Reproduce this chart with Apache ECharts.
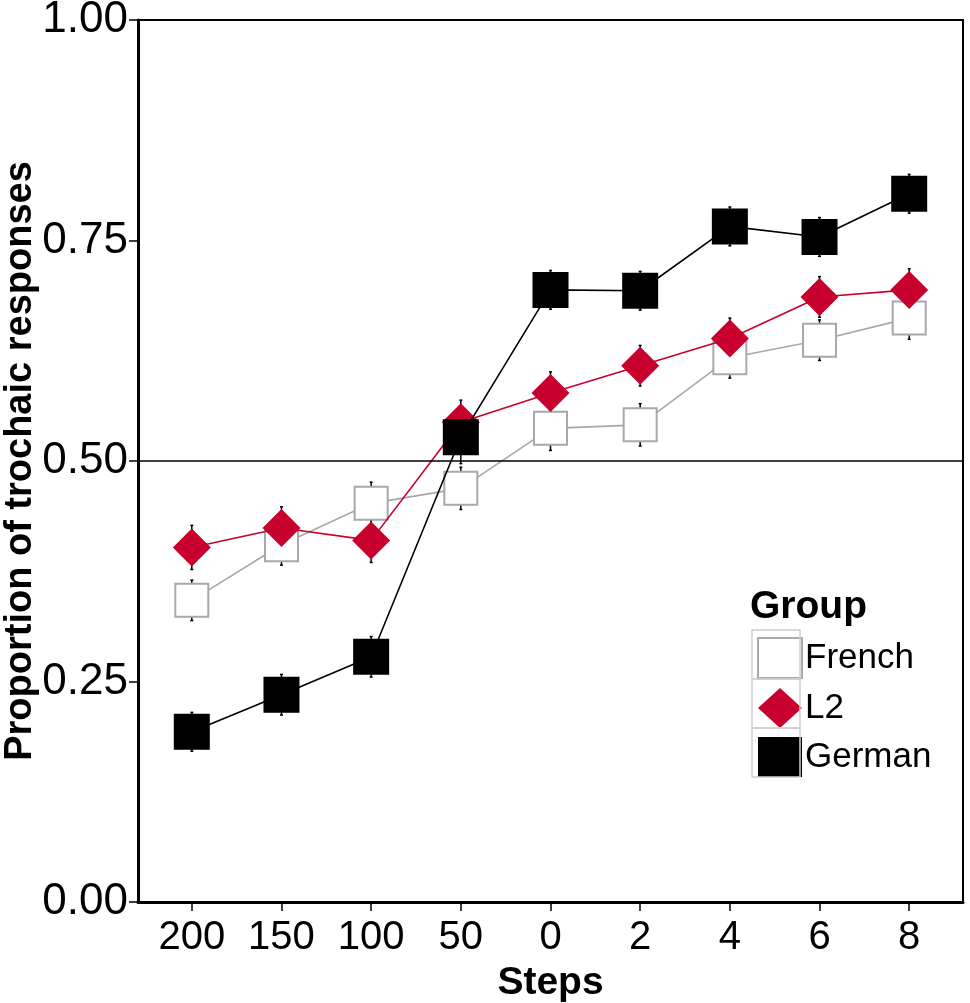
<!DOCTYPE html>
<html><head><meta charset="utf-8">
<script src="https://cdn.jsdelivr.net/npm/echarts@6/dist/echarts.min.js"></script>
<style>html,body{margin:0;padding:0;background:#fff}#c{width:970px;height:1003px}</style>
</head><body><div id="c"></div>
<script>
const categories = ['200','150','100','50','0','2','4','6','8'];
const french = [0.342,0.405,0.452,0.469,0.537,0.541,0.617,0.637,0.662];
const l2     = [0.402,0.424,0.410,0.544,0.577,0.608,0.639,0.686,0.694];
const german = [0.193,0.235,0.278,0.527,0.694,0.693,0.766,0.754,0.803];
const frenchErr = [0.023,0.023,0.024,0.024,0.025,0.024,0.023,0.023,0.024];
const l2Err     = [0.025,0.024,0.025,0.025,0.024,0.023,0.023,0.023,0.024];
const germanErr = [0.022,0.023,0.023,0.030,0.022,0.022,0.022,0.022,0.022];

const pts = arr => arr.map((v,i)=>[i,v]);
const errData = (vals, errs) => vals.map((v,i)=>[i, v-errs[i], v+errs[i]]);
function errSeries(vals, errs){
  return {
    type:'custom', silent:true, z:1,
    data: errData(vals, errs),
    renderItem:(params, api)=>{
      const x = api.value(0);
      const lo = api.coord([x, api.value(1)]);
      const hi = api.coord([x, api.value(2)]);
      return {type:'group', children:[
        {type:'line', shape:{x1:lo[0],y1:lo[1],x2:hi[0],y2:hi[1]}, style:{stroke:'#000',lineWidth:1.5}},
        {type:'line', shape:{x1:lo[0]-1.5,y1:lo[1],x2:lo[0]+1.5,y2:lo[1]}, style:{stroke:'#000',lineWidth:1.5}},
        {type:'line', shape:{x1:hi[0]-1.5,y1:hi[1],x2:hi[0]+1.5,y2:hi[1]}, style:{stroke:'#000',lineWidth:1.5}}
      ]};
    }
  };
}

const FONT = 'Liberation Sans, Arial, sans-serif';
const chart = echarts.init(document.getElementById('c'));
chart.setOption({
  animation:false,
  backgroundColor:'#fff',
  textStyle:{fontFamily:FONT},
  grid:{left:138, top:20, right:7, bottom:101, containLabel:false, outerBoundsMode:'none',
        show:true, borderColor:'#000', borderWidth:2, backgroundColor:'#fff'},
  xAxis:{
    type:'value', min:-0.6, max:8.6,
    name:'Steps', nameLocation:'middle', nameGap:62, nameMoveOverlap:false,
    nameTextStyle:{fontSize:39, fontWeight:'bold', color:'#000', fontFamily:FONT},
    axisLine:{show:true, onZero:false, lineStyle:{color:'#000', width:3}},
    axisTick:{show:true, length:9, lineStyle:{color:'#000', width:1.5}, customValues:categories.map((c,i)=>i)},
    axisLabel:{fontSize:40, color:'#000', margin:16, customValues:categories.map((c,i)=>i), formatter:v=>categories[Math.round(v)]},
    splitLine:{show:false}
  },
  yAxis:{
    type:'value', min:0, max:1, interval:0.25,
    name:'Proportion of trochaic responses', nameLocation:'middle', nameGap:98, nameMoveOverlap:false,
    nameTextStyle:{fontSize:38, fontWeight:'bold', color:'#000', fontFamily:FONT},
    axisLine:{show:true, onZero:false, lineStyle:{color:'#000', width:3}},
    axisTick:{show:true, length:9, lineStyle:{color:'#000', width:1.5}},
    axisLabel:{fontSize:44, color:'#000', margin:10, formatter:v=>v.toFixed(2)},
    splitLine:{show:false}
  },
  legend:{
    orient:'vertical', left:752, top:632, itemWidth:44, itemHeight:40, itemGap:9,
    textStyle:{fontSize:35, color:'#000', padding:[0,0,0,-2]},
    data:[
      {name:'French', icon:'rect', itemStyle:{color:'#fff', borderColor:'#aaa', borderWidth:2}},
      {name:'L2', icon:'diamond', itemStyle:{color:'#c8002d'}},
      {name:'German', icon:'rect', itemStyle:{color:'#000'}}
    ]
  },
  graphic:[
    {type:'text', left:750, top:588, style:{text:'Group', font:'bold 39px Liberation Sans, Arial, sans-serif', fill:'#000'}},
    {type:'rect', shape:{x:752,y:630,width:48,height:49}, style:{fill:'none', stroke:'#d0d0d0', lineWidth:1.5}, z:100},
    {type:'rect', shape:{x:752,y:679,width:48,height:49}, style:{fill:'none', stroke:'#d0d0d0', lineWidth:1.5}, z:100},
    {type:'rect', shape:{x:752,y:728,width:48,height:49}, style:{fill:'none', stroke:'#d0d0d0', lineWidth:1.5}, z:100}
  ],
  series:[
    errSeries(french, frenchErr),
    errSeries(l2, l2Err),
    errSeries(german, germanErr),
    {name:'French', type:'line', data:pts(french), z:3, symbol:'rect', symbolSize:33,
     lineStyle:{color:'#a8a8a8', width:1.6}, itemStyle:{color:'#fff', borderColor:'#a8a8a8', borderWidth:2},
     markLine:{silent:true, symbol:'none', label:{show:false}, lineStyle:{color:'#000', width:1.5, type:'solid'}, data:[{yAxis:0.5}]}},
    {name:'L2', type:'line', data:pts(l2), z:4, symbol:'diamond', symbolSize:38,
     lineStyle:{color:'#c8002d', width:1.6}, itemStyle:{color:'#c8002d'}},
    {name:'German', type:'line', data:pts(german), z:5, symbol:'rect', symbolSize:36,
     lineStyle:{color:'#000', width:1.6}, itemStyle:{color:'#000'}}
  ]
});
</script></body></html>
